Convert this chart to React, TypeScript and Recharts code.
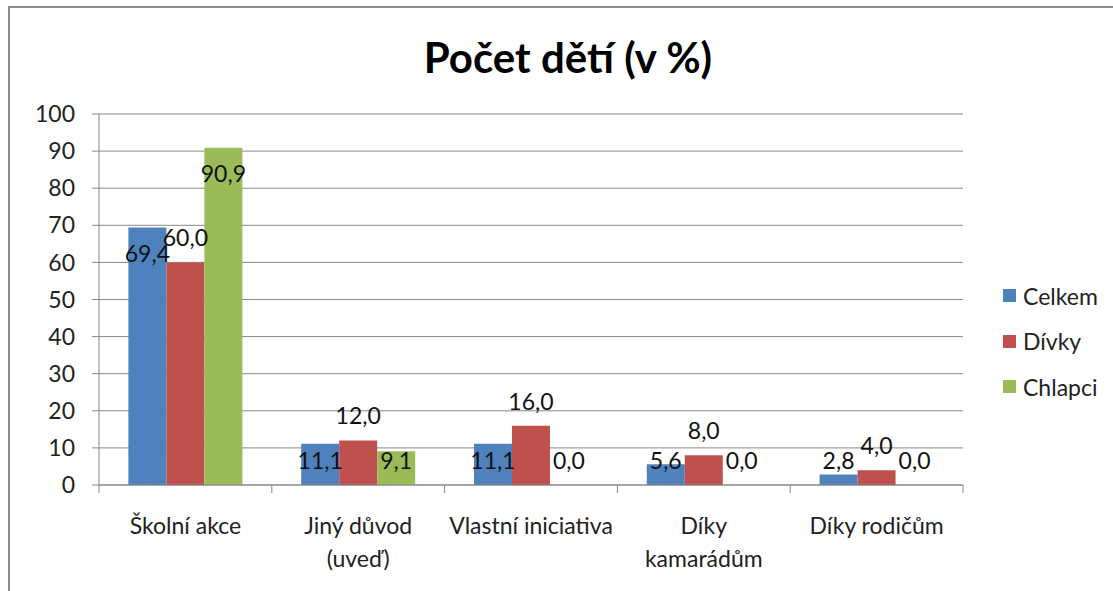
import { Bar, BarChart, CartesianGrid, Cell, LabelList, XAxis, YAxis } from "recharts";

const CATEGORIES = ["Školní akce", "Jiný důvod (uveď)", "Vlastní iniciativa", "Díky kamarádům", "Díky rodičům"];
const TICK_LINES = [["Školní akce"], ["Jiný důvod", "(uveď)"], ["Vlastní iniciativa"], ["Díky", "kamarádům"], ["Díky rodičům"]];
const CELKEM = [69.4, 11.1, 11.1, 5.6, 2.8];
const DIVKY = [60.0, 12.0, 16.0, 8.0, 4.0];
const CHLAPCI = [90.9, 9.1, 0.0, 0.0, 0.0];
const Y_TICKS = [0, 10, 20, 30, 40, 50, 60, 70, 80, 90, 100];

const SERIES = [
  { key: "celkem", name: "Celkem", color: "#4F81BD", values: CELKEM, above: false },
  { key: "divky", name: "Dívky", color: "#C0504D", values: DIVKY, above: true },
  { key: "chlapci", name: "Chlapci", color: "#9BBB59", values: CHLAPCI, above: false },
];

const DATA = CATEGORIES.map((c, i) => ({
  name: c,
  celkem: CELKEM[i],
  divky: DIVKY[i],
  chlapci: CHLAPCI[i],
}));

const FONT = "Lato, 'Open Sans', sans-serif";
const GRID = "#878787";
const FS = 23;

const fmt = (v: number) => v.toFixed(1).replace(".", ",");

// Excel put the red labels above the bar end, the others inside near the top
function makeLabel(above: boolean) {
  return (p: any) => {
    const top = Number(p.y);
    const zero = top + Number(p.height);
    const cy = above ? top - 25 : Math.min(top + 25, zero - 25);
    return (
      <text
        x={Number(p.x) + Number(p.width) / 2}
        y={cy}
        textAnchor="middle"
        dominantBaseline="central"
        fontFamily={FONT}
        fontSize={FS}
        fill="#111"
      >
        {fmt(Number(p.value))}
      </text>
    );
  };
}

function CategoryTick(p: any) {
  const half = p.payload?.offset ?? 86.4;
  const lines = TICK_LINES[p.index] ?? [p.payload.value];
  const last = p.index === CATEGORIES.length - 1;
  return (
    <g>
      <line x1={p.x - half} x2={p.x - half} y1={p.y} y2={p.y + 8} stroke={GRID} />
      {last && <line x1={p.x + half} x2={p.x + half} y1={p.y} y2={p.y + 8} stroke={GRID} />}
      {lines.map((t: string, i: number) => (
        <text
          key={i}
          x={p.x}
          y={p.y + 40 + i * 33}
          textAnchor="middle"
          dominantBaseline="central"
          fontFamily={FONT}
          fontSize={FS}
          fill="#222"
        >
          {t}
        </text>
      ))}
    </g>
  );
}

export default function App() {
  return (
    <div style={{ position: "relative", width: 1113, height: 591, overflow: "hidden", background: "#fff" }}>
      <style>{`body{margin:0}`}</style>
      <div
        style={{
          position: "absolute",
          left: 8,
          top: 6,
          width: 1300,
          height: 800,
          border: "2px solid #8c8c8c",
        }}
      />
      <div
        style={{
          position: "absolute",
          left: 568,
          top: 36,
          transform: "translateX(-50%)",
          fontFamily: FONT,
          fontWeight: 700,
          fontSize: 42,
          lineHeight: "42px",
          whiteSpace: "nowrap",
          color: "#000",
        }}
      >
        Počet dětí (v %)
      </div>
      <div
        style={{
          position: "absolute",
          left: 1003,
          top: 273,
          fontFamily: FONT,
          fontSize: FS,
          color: "#222",
        }}
      >
        {SERIES.map((s) => (
          <div key={s.key} style={{ display: "flex", alignItems: "center", height: 45.5 }}>
            <span style={{ width: 13, height: 13, background: s.color, marginRight: 7, display: "inline-block" }} />
            {s.name}
          </div>
        ))}
      </div>
      <BarChart
        width={1113}
        height={591}
        data={DATA}
        margin={{ top: 114, right: 150, left: 0, bottom: 46 }}
        barCategoryGap="17%"
        barGap={0}
        style={{ position: "absolute", left: 0, top: 0 }}
      >
        <CartesianGrid vertical={false} stroke={GRID} />
        <XAxis
          dataKey="name"
          height={60}
          axisLine={{ stroke: GRID }}
          tickLine={false}
          tickSize={0}
          tickMargin={0}
          interval={0}
          tick={<CategoryTick />}
        />
        <YAxis
          width={99}
          domain={[0, 100]}
          ticks={Y_TICKS}
          interval={0}
          axisLine={{ stroke: GRID }}
          tickLine={{ stroke: GRID }}
          tickSize={7}
          tickMargin={17}
          tick={{ fontFamily: FONT, fontSize: FS, fill: "#222" }}
        />
        {SERIES.map((s) => (
          <Bar
            key={s.key}
            dataKey={s.key}
            name={s.name}
            fill={s.color}
            minPointSize={1}
            isAnimationActive={false}
          >
            {s.values.map((v, i) => (
              <Cell key={i} fill={v === 0 ? "transparent" : s.color} />
            ))}
            <LabelList dataKey={s.key} content={makeLabel(s.above)} />
          </Bar>
        ))}
      </BarChart>
    </div>
  );
}
